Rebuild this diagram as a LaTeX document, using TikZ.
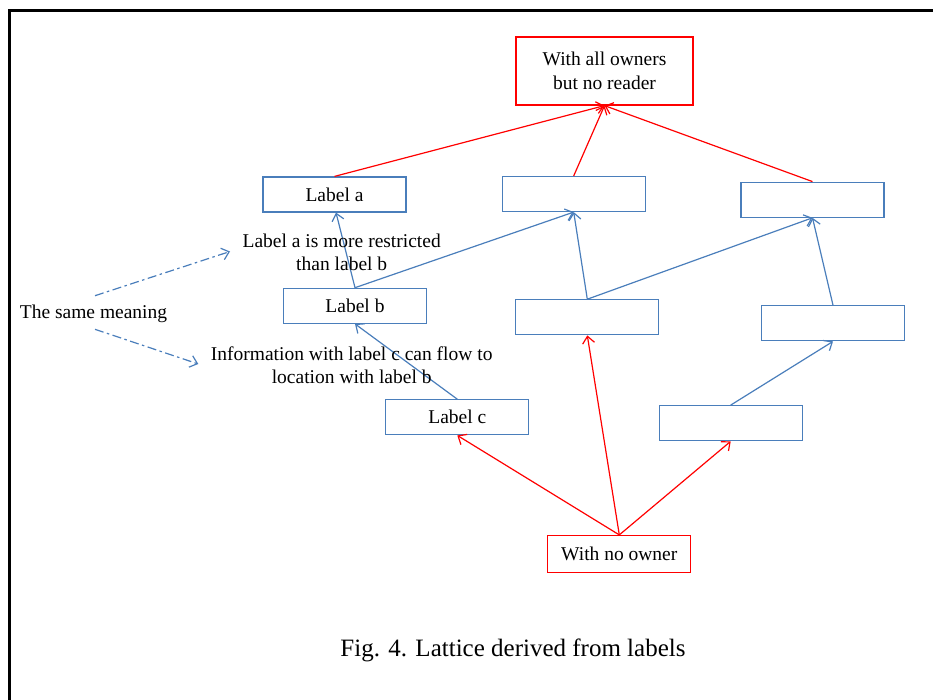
\documentclass[tikz,border=0pt]{standalone}
\usepackage{fontspec}
\setmainfont{Liberation Serif}
\usetikzlibrary{arrows.meta}
\definecolor{lblue}{HTML}{4A7EBB}
\definecolor{lred}{HTML}{FF0000}
\tikzset{
  bluebox/.style={draw=lblue, line width=1.2pt, minimum width=143pt, minimum height=35pt, inner sep=0pt, font=\fontsize{19.5}{24}\selectfont},
  redbox/.style={draw=lred, line width=1.2pt, inner sep=0pt, align=center, font=\fontsize{19.5}{24}\selectfont},
  note/.style={inner sep=0pt, align=center, font=\fontsize{19.5}{23.2}\selectfont},
  tipopen/.style={-{Straight Barb[length=7pt,width=12pt,line width=1.2pt]}},
  redline/.style={draw=lred, line width=1.2pt},
  blueline/.style={draw=lblue, line width=1.2pt},
  dashdotline/.style={draw=lblue, line width=1.2pt, dash pattern=on 9pt off 3.5pt on 2.5pt off 3.5pt}
}
\begin{document}
\begin{tikzpicture}[x=1pt,y=-1pt]
\useasboundingbox (0,0) rectangle (933,700);
% frame
\draw[line width=3pt] (9.5,700) -- (9.5,11) -- (934,11);

% nodes
\node[redbox, minimum width=177pt, minimum height=68pt] (top) at (604.5,71) {With all owners\\but no reader};
\node[bluebox] (la) at (334.5,194.5) {Label a};
\node[bluebox] (t2) at (573.7,194) {};
\node[bluebox] (t3) at (812.5,199.7) {};
\node[bluebox] (lb) at (355,305.8) {Label b};
\node[bluebox] (m2) at (587.3,317.3) {};
\node[bluebox] (m3) at (833,323.3) {};
\node[bluebox] (lc) at (457.3,417.3) {Label c};
\node[bluebox] (b3) at (730.7,423.2) {};
\node[redbox, minimum width=143pt, minimum height=37pt] (bot) at (619.3,554) {With no owner};

% red edges
\draw[redline, tipopen] (la.north) -- (top.south);
\draw[redline, tipopen] (t2.north) -- (top.south);
\draw[redline, tipopen] (t3.north) -- (top.south);
\draw[redline, tipopen] (bot.north) -- (lc.south);
\draw[redline, tipopen] (bot.north) -- (m2.south);
\draw[redline, tipopen] (bot.north) -- (b3.south);

% blue edges
\draw[blueline, tipopen] (lb.north) -- ([xshift=1.5pt]la.south);
\draw[blueline, tipopen] (lb.north) -- (t2.south);
\draw[blueline, tipopen] (lc.north) -- (lb.south);
\draw[blueline, tipopen] (m2.north) -- (t2.south);
\draw[blueline, tipopen] (m2.north) -- (t3.south);
\draw[blueline, tipopen] (m3.north) -- (t3.south);
\draw[blueline, tipopen] (b3.north) -- (m3.south);

% annotations
\node[note] (n1) at (341.7,252) {Label a is more restricted\\than label b};
\node[note] (n2) at (351.7,365) {Information with label c can flow to\\location with label b};
\node[note] (same) at (93.5,314) {The same meaning};

\coordinate (d1s) at (95,295.7);
\coordinate (d1e) at (230,251.5);
\coordinate (d2s) at (95,329.3);
\coordinate (d2e) at (198.3,364);
\draw[dashdotline, tipopen] (d1s) -- (d1e);
\draw[dashdotline, tipopen] (d2s) -- (d2e);

% caption
\node[inner sep=0pt, font=\fontsize{25}{30}\selectfont] (cap) at (513,650) {Fig. 4. Lattice derived from labels};
\end{tikzpicture}
\end{document}
